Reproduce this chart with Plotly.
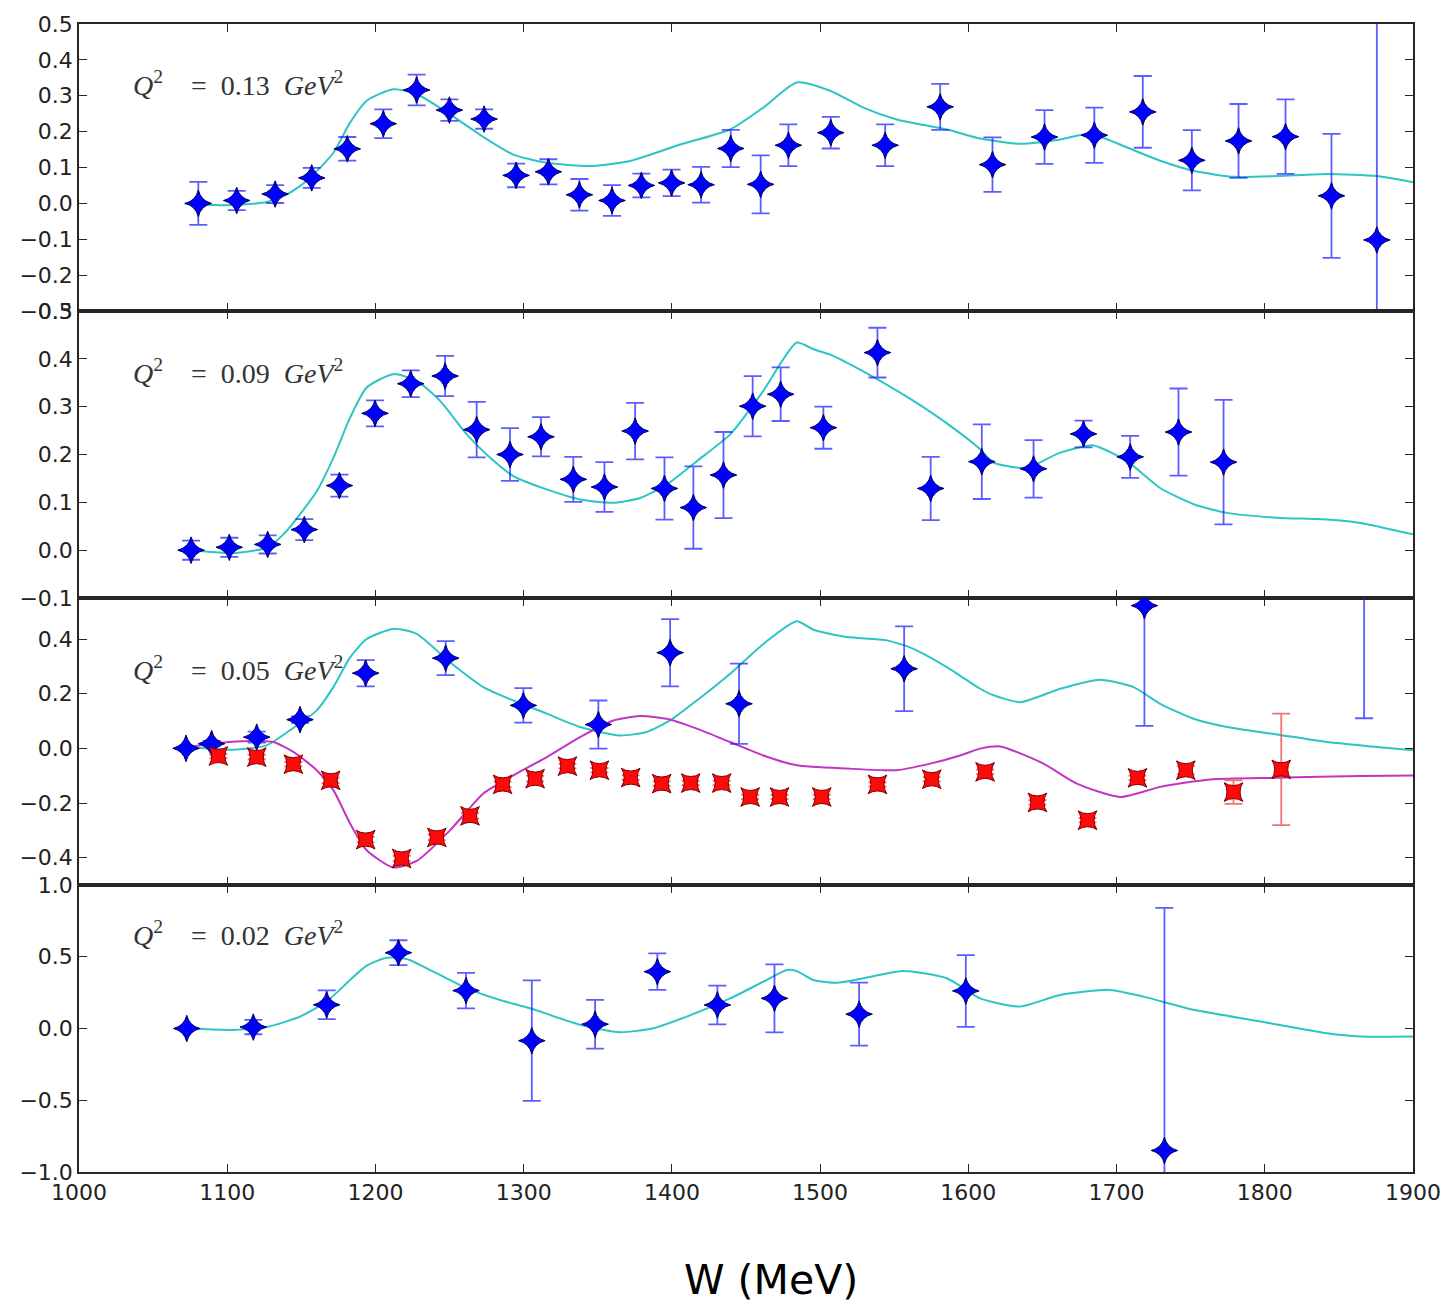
import plotly.graph_objects as go
from plotly.subplots import make_subplots

# ---------------- Q^2 = 0.13 GeV^2 ----------------
W1 = [1080.5, 1106.4, 1132.3, 1157.0, 1181.0, 1205.3, 1227.8, 1249.9, 1273.3, 1294.9,
      1316.7, 1337.6, 1359.6, 1379.4, 1399.8, 1419.7, 1439.7, 1459.9, 1478.6, 1507.2,
      1543.9, 1581.0, 1616.3, 1651.4, 1685.0, 1717.7, 1750.8, 1782.3, 1814.0, 1845.0, 1875.6]
A1 = [0.000, 0.008, 0.026, 0.071, 0.152, 0.222, 0.316, 0.260, 0.235, 0.078,
      0.088, 0.024, 0.008, 0.050, 0.057, 0.052, 0.153, 0.053, 0.162, 0.197,
      0.162, 0.269, 0.108, 0.185, 0.190, 0.255, 0.120, 0.174, 0.186, 0.021, -0.102]
E1 = [0.060, 0.027, 0.025, 0.028, 0.033, 0.040, 0.043, 0.030, 0.027, 0.033,
      0.035, 0.044, 0.043, 0.033, 0.037, 0.050, 0.052, 0.081, 0.058, 0.044,
      0.058, 0.064, 0.076, 0.075, 0.077, 0.100, 0.084, 0.103, 0.104, 0.173, 0.650]
CW1 = [1071, 1085, 1100, 1115, 1126.6, 1137.9, 1149, 1160.4, 1171.6, 1182.9, 1194.1, 1212,
       1227.8, 1250.3, 1272.8, 1293, 1315.6, 1344.8, 1371.8, 1405.5, 1439.3, 1461.7,
       1484.2, 1506.7, 1529.2, 1551.7, 1585.5, 1608, 1635, 1662, 1682.2, 1707.6, 1730,
       1752.5, 1779.5, 1808.8, 1842.5, 1875.6, 1900]
CA1 = [0.000, -0.004, -0.005, -0.002, 0.004, 0.020, 0.048, 0.090, 0.141, 0.225, 0.286, 0.318,
       0.305, 0.248, 0.185, 0.136, 0.113, 0.104, 0.118, 0.164, 0.206, 0.267,
       0.337, 0.314, 0.267, 0.234, 0.206, 0.181, 0.166, 0.178, 0.194, 0.155, 0.118,
       0.090, 0.074, 0.076, 0.082, 0.076, 0.059]

# ---------------- Q^2 = 0.09 GeV^2 ----------------
W2 = [1075.6, 1101.4, 1127.3, 1152.0, 1175.7, 1199.7, 1223.8, 1247.0, 1268.3, 1290.8,
      1311.7, 1333.5, 1354.5, 1375.2, 1395.0, 1414.5, 1434.8, 1454.5, 1473.4, 1502.2,
      1538.7, 1574.6, 1609.1, 1644.0, 1677.7, 1709.2, 1741.8, 1772.2]
A2 = [0.000, 0.006, 0.012, 0.043, 0.135, 0.286, 0.348, 0.364, 0.252, 0.200,
      0.237, 0.148, 0.132, 0.249, 0.129, 0.089, 0.157, 0.301, 0.326, 0.256,
      0.413, 0.129, 0.185, 0.170, 0.243, 0.195, 0.247, 0.184]
E2 = [0.020, 0.020, 0.019, 0.022, 0.023, 0.027, 0.028, 0.042, 0.058, 0.055,
      0.041, 0.047, 0.052, 0.059, 0.065, 0.086, 0.090, 0.063, 0.056, 0.044,
      0.052, 0.066, 0.078, 0.060, 0.028, 0.044, 0.091, 0.130]
CW2 = [1078, 1090, 1104, 1126.6, 1137.9, 1149.1, 1160.4, 1171.6, 1182.9, 1194.1, 1212,
       1227.8, 1243.6, 1261.6, 1275, 1293, 1315.6, 1338, 1360.5, 1378.5, 1396.5, 1416.8,
       1439.3, 1461.7, 1484.2, 1495.5, 1506.7, 1518, 1540.5, 1563, 1585.5, 1608, 1617,
       1639.4, 1662, 1684.4, 1707, 1729.4, 1752, 1774.4, 1808, 1842, 1864.4, 1900]
CA2 = [0.000, -0.004, -0.006, 0.005, 0.033, 0.075, 0.123, 0.193, 0.277, 0.340, 0.368,
       0.354, 0.312, 0.242, 0.200, 0.155, 0.127, 0.106, 0.099, 0.109, 0.137, 0.186,
       0.242, 0.333, 0.434, 0.420, 0.409, 0.392, 0.354, 0.312, 0.265, 0.211, 0.183,
       0.172, 0.204, 0.219, 0.186, 0.130, 0.096, 0.078, 0.068, 0.064, 0.057, 0.033]

# ---------------- Q^2 = 0.05 GeV^2 ----------------
W3b = [1072.2, 1089.5, 1119.9, 1149.1, 1193.4, 1247.4, 1299.8, 1350.4, 1398.8, 1445.3,
       1556.7, 1718.8, 1867.0]
A3b = [0.000, 0.017, 0.041, 0.105, 0.275, 0.330, 0.157, 0.087, 0.350, 0.163,
       0.291, 0.522, 0.750]
E3b = [0.005, 0.010, 0.020, 0.012, 0.048, 0.062, 0.063, 0.088, 0.123, 0.147,
       0.155, 0.440, 0.640]
W3r = [1094.0, 1119.9, 1144.6, 1169.8, 1193.4, 1217.7, 1241.4, 1263.8, 1285.8, 1307.7,
       1329.5, 1351.1, 1372.2, 1393.1, 1412.7, 1433.6, 1452.8, 1472.6, 1501.1, 1538.7,
       1575.3, 1611.3, 1646.6, 1680.4, 1714.1, 1746.7, 1778.9, 1811.1]
A3r = [-0.028, -0.032, -0.058, -0.117, -0.334, -0.403, -0.326, -0.247, -0.132, -0.111,
       -0.065, -0.080, -0.107, -0.129, -0.127, -0.127, -0.178, -0.178, -0.178, -0.132,
       -0.113, -0.086, -0.198, -0.263, -0.108, -0.080, -0.160, -0.077]
E3r = [0.008, 0.008, 0.008, 0.010, 0.010, 0.010, 0.010, 0.010, 0.010, 0.010,
       0.008, 0.008, 0.008, 0.008, 0.008, 0.008, 0.008, 0.008, 0.008, 0.008,
       0.008, 0.008, 0.008, 0.008, 0.008, 0.015, 0.043, 0.204]
CW3 = [1072.7, 1090, 1104, 1126.6, 1142.3, 1160.4, 1171.6, 1182.9, 1194.1, 1212, 1227.8,
       1250.3, 1272.8, 1293, 1315.6, 1338, 1365, 1383, 1398.8, 1416.8, 1439.3, 1461.7,
       1484.2, 1495.5, 1518, 1545, 1563, 1585.5, 1608, 1617, 1635, 1662, 1689, 1711.4,
       1729.4, 1752, 1774.4, 1808, 1842, 1875.6, 1900]
CA3 = [0.005, -0.002, -0.005, 0.011, 0.066, 0.139, 0.224, 0.333, 0.400, 0.437, 0.419,
       0.315, 0.224, 0.175, 0.127, 0.078, 0.047, 0.060, 0.102, 0.175, 0.273, 0.382,
       0.465, 0.434, 0.407, 0.395, 0.364, 0.297, 0.218, 0.194, 0.169, 0.218, 0.251, 0.224,
       0.163, 0.108, 0.078, 0.051, 0.023, 0.005, -0.007]
CW3m = [1072.7, 1092.9, 1115.4, 1131.1, 1144.6, 1160.4, 1171.6, 1182.9, 1194.1, 1212,
        1227.8, 1250.3, 1272.8, 1293, 1315.6, 1338, 1360.5, 1378.5, 1396.5, 1416.8,
        1439.3, 1461.7, 1484.2, 1518, 1551.7, 1574.2, 1594.5, 1608, 1621.5, 1650.7,
        1673.2, 1702.4, 1729.4, 1763.1, 1808, 1864.4, 1900]
CA3m = [0.005, 0.019, 0.027, 0.023, -0.013, -0.080, -0.153, -0.275, -0.373, -0.436,
        -0.412, -0.300, -0.165, -0.099, -0.032, 0.041, 0.102, 0.118, 0.108, 0.072,
        0.023, -0.026, -0.062, -0.074, -0.080, -0.056, -0.026, -0.001, 0.007, -0.056,
        -0.129, -0.178, -0.141, -0.114, -0.108, -0.101, -0.099]

# ---------------- Q^2 = 0.02 GeV^2 ----------------
W4 = [1072.7, 1117.6, 1167.1, 1215.5, 1261.1, 1305.5, 1348.2, 1390.2, 1430.7, 1469.2,
      1526.3, 1598.3, 1732.3]
A4 = [0.000, 0.010, 0.165, 0.528, 0.264, -0.085, 0.030, 0.396, 0.164, 0.210,
      0.100, 0.262, -0.850]
E4 = [0.010, 0.050, 0.100, 0.087, 0.124, 0.420, 0.170, 0.127, 0.135, 0.237,
      0.220, 0.250, 1.690]
CW4 = [1077, 1104, 1126.6, 1149.1, 1167.1, 1182.9, 1194.1, 1207.6, 1221.1, 1239.1, 1261.6,
       1284, 1304.3, 1338, 1365, 1387.5, 1410, 1439.3, 1461.7, 1477.5, 1484.2, 1495.5,
       1511.3, 1529.2, 1556.2, 1585.5, 1608, 1635, 1662, 1695.7, 1718.2, 1752, 1797,
       1842, 1864.4, 1900]
CA4 = [0.000, -0.010, 0.010, 0.083, 0.188, 0.338, 0.438, 0.493, 0.484, 0.396, 0.280,
       0.199, 0.141, 0.026, -0.026, 0.002, 0.083, 0.210, 0.326, 0.408, 0.400, 0.338,
       0.319, 0.350, 0.400, 0.350, 0.210, 0.153, 0.234, 0.269, 0.222, 0.130, 0.049,
       -0.033, -0.056, -0.056]

Q2_LABELS = ["0.13", "0.09", "0.05", "0.02"]
Y_RANGES = [[-0.3, 0.5], [-0.1, 0.5], [-0.5, 0.55], [-1.0, 1.0]]
Y_DTICKS = [0.1, 0.1, 0.2, 0.5]
LABEL_POS = [0.333, 0.374, 0.292, 0.66]
X_TICKS = [1000, 1100, 1200, 1300, 1400, 1500, 1600, 1700, 1800, 1900]

CYAN = "#2ec4c4"
MAGENTA = "#c234c2"
BLUE = "#0000ff"
BLUE_ERR = "rgba(30,30,255,0.72)"
RED = "#ff0a0a"
RED_ERR = "rgba(240,80,80,0.8)"
AXIS = "#262626"

fig = make_subplots(rows=4, cols=1, shared_xaxes=True, vertical_spacing=0)


def curve(x, y, color, row):
    fig.add_trace(go.Scatter(x=x, y=y, mode="lines",
                             line=dict(color=color, width=2, shape="spline", smoothing=0.6),
                             hoverinfo="skip", showlegend=False), row=row, col=1)


def points(x, y, err, row, symbol, size, fill, edge, ecolor):
    fig.add_trace(go.Scatter(x=x, y=y, mode="markers",
                             marker=dict(symbol=symbol, size=size, color=fill,
                                         line=dict(color=edge, width=1)),
                             error_y=dict(type="data", array=err, visible=True,
                                          color=ecolor, thickness=1.8, width=9),
                             showlegend=False), row=row, col=1)


curve(CW1, CA1, CYAN, 1)
points(W1, A1, E1, 1, "star-diamond", 19, BLUE, "#000060", BLUE_ERR)

curve(CW2, CA2, CYAN, 2)
points(W2, A2, E2, 2, "star-diamond", 19, BLUE, "#000060", BLUE_ERR)

curve(CW3, CA3, CYAN, 3)
curve(CW3m, CA3m, MAGENTA, 3)
points(W3b, A3b, E3b, 3, "star-diamond", 19, BLUE, "#000060", BLUE_ERR)
points(W3r, A3r, E3r, 3, "star-square", 17, RED, "#7a0000", RED_ERR)

curve(CW4, CA4, CYAN, 4)
points(W4, A4, E4, 4, "star-diamond", 19, BLUE, "#000060", BLUE_ERR)

tick_font = dict(family="DejaVu Sans", size=22, color="#222222")

for i in range(4):
    r = i + 1
    fig.update_yaxes(range=Y_RANGES[i], dtick=Y_DTICKS[i], tick0=0, tickformat=".1f",
                     showgrid=False, zeroline=False, showline=True, linecolor=AXIS,
                     linewidth=1.6, mirror="ticks", ticks="inside", ticklen=8,
                     tickwidth=1.4, tickcolor=AXIS, tickfont=tick_font, automargin=False,
                     row=r, col=1)
    fig.update_xaxes(range=[1000, 1900], tickvals=X_TICKS, showgrid=False, zeroline=False,
                     showline=True, linecolor=AXIS, linewidth=1.6, mirror="ticks",
                     ticks="inside", ticklen=8, tickwidth=1.4, tickcolor=AXIS,
                     tickfont=tick_font, showticklabels=(r == 4), automargin=False,
                     row=r, col=1)
    suffix = "" if r == 1 else str(r)
    fig.add_annotation(
        x=1035, y=LABEL_POS[i], xref="x" + suffix, yref="y" + suffix,
        xanchor="left", yanchor="middle", showarrow=False,
        text="<i>Q</i><sup>2</sup>\u00a0\u00a0\u00a0\u00a0=\u00a0\u00a00.%s\u00a0\u00a0<i>GeV</i><sup>2</sup>"
             % Q2_LABELS[i][2:],
        font=dict(family="Liberation Serif", size=28, color="#333333"))

fig.add_annotation(x=0.5187, y=-0.094, xref="paper", yref="paper", showarrow=False,
                   xanchor="center", yanchor="middle", text="W (MeV)",
                   font=dict(family="DejaVu Sans", size=41, color="#000000"))

fig.update_layout(width=1445, height=1303,
                  margin=dict(l=79, r=32, t=24, b=131, autoexpand=False),
                  paper_bgcolor="white", plot_bgcolor="white",
                  showlegend=False)

fig.write_html("out.html")
